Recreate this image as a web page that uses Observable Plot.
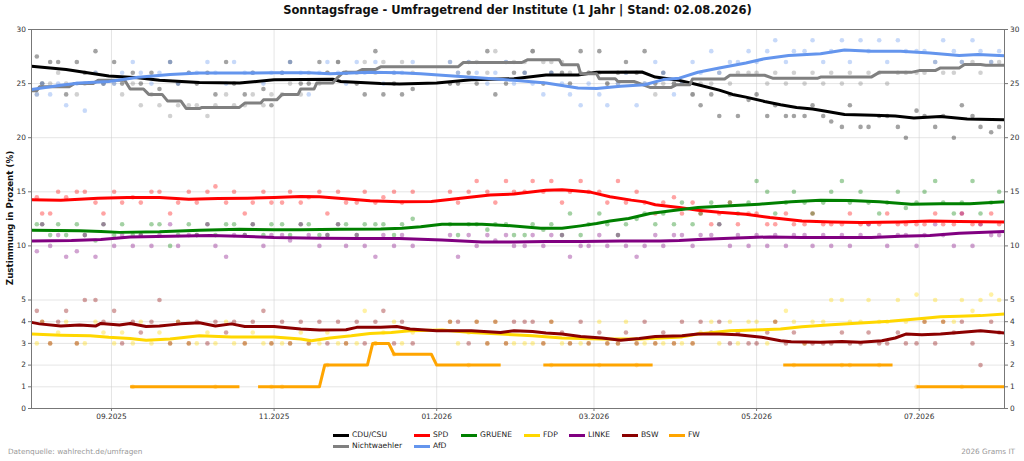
<!DOCTYPE html>
<html>
<head>
<meta charset="utf-8">
<script src="https://cdn.jsdelivr.net/npm/d3@7"></script>
<script src="https://cdn.jsdelivr.net/npm/@observablehq/plot@0.6"></script>
<style>
  html, body { margin: 0; padding: 0; background: #fff; }
  #wrap { position: relative; width: 1024px; height: 461px; background: #fff; font-family: "DejaVu Sans", sans-serif; color: #222; overflow: hidden; }
  #title { position: absolute; top: 4px; left: 0; width: 1035px; text-align: center; font-weight: bold; font-size: 11.5px; line-height: 13px; color: #111; }
  #ylabel { position: absolute; left: 9.5px; top: 218px; transform: translate(-50%, -50%) rotate(-90deg); white-space: nowrap; font-weight: bold; font-size: 8.7px; color: #111; }
  #chart { position: absolute; top: 20px; left: 0; }
  .leg { position: absolute; display: flex; align-items: center; font-size: 7.6px; line-height: 10px; height: 10px; color: #222; white-space: nowrap; }
  .leg span.sw { display: inline-block; width: 16px; height: 3px; margin-right: 3px; }
  .foot { position: absolute; top: 447px; font-size: 7.3px; line-height: 10px; color: #999; white-space: nowrap; }
</style>
</head>
<body>
<div id="wrap">
  <div id="title">Sonntagsfrage - Umfragetrend der Institute (1 Jahr | Stand: 02.08.2026)</div>
  <div id="ylabel">Zustimmung in Prozent (%)</div>
  <div id="chart"></div>
  <div class="foot" style="left:8px">Datenquelle: wahlrecht.de/umfragen</div>
  <div class="foot" style="right:9px">2026 Grams IT</div>
</div>
<script>
// ---------- categories ----------
const partyNames  = ["CDU/CSU", "Nichtwaehler", "SPD", "AfD", "GRUENE", "FDP", "LINKE", "BSW", "FW"];
const partyColors = ["#000000", "#808080", "#ff0000", "#6495ed", "#008000", "#ffd700", "#800080", "#8b0000", "#ffa500"];

// ---------- axis ticks ----------
const yTicks = [0, 1, 2, 3, 4, 5, 10, 15, 20, 25, 30];
const xTickDates = ["2025-09-01", "2025-11-01", "2026-01-01", "2026-03-01", "2026-05-01", "2026-07-01"];

// ---------- poll dates (shared by all parties) ----------
const pollDates = [
  "2025-08-04","2025-08-06","2025-08-09","2025-08-12","2025-08-15","2025-08-19","2025-08-22","2025-08-26","2025-08-29",
  "2025-09-02","2025-09-05","2025-09-09","2025-09-12","2025-09-16","2025-09-19","2025-09-23","2025-09-26","2025-09-30",
  "2025-10-03","2025-10-07","2025-10-10","2025-10-14","2025-10-17","2025-10-21","2025-10-24","2025-10-28","2025-10-31",
  "2025-11-04","2025-11-07","2025-11-11","2025-11-14","2025-11-18","2025-11-21","2025-11-25","2025-11-28",
  "2025-12-02","2025-12-05","2025-12-09","2025-12-12","2025-12-16","2025-12-19","2025-12-23",
  "2026-01-06","2026-01-09","2026-01-13","2026-01-16","2026-01-20","2026-01-23","2026-01-27","2026-01-30",
  "2026-02-03","2026-02-06","2026-02-10","2026-02-13","2026-02-17","2026-02-20","2026-02-24","2026-02-27",
  "2026-03-03","2026-03-06","2026-03-10","2026-03-13","2026-03-17","2026-03-20","2026-03-24","2026-03-27","2026-03-31",
  "2026-04-03","2026-04-07","2026-04-10","2026-04-14","2026-04-17","2026-04-21","2026-04-24","2026-04-28",
  "2026-05-01","2026-05-05","2026-05-08","2026-05-12","2026-05-15","2026-05-19","2026-05-22","2026-05-26","2026-05-29",
  "2026-06-02","2026-06-05","2026-06-09","2026-06-12","2026-06-16","2026-06-19","2026-06-23","2026-06-26","2026-06-30",
  "2026-07-03","2026-07-07","2026-07-10","2026-07-14","2026-07-17","2026-07-21","2026-07-24","2026-07-28","2026-07-31"
];

// ---------- poll values per party ----------
const cduPolls = [
  27.5,25,27,27,24,27,26,28,25,
  27,25,26,25,26,24.5,27,25,26,
  25,26,24,27,25,24,26,24.5,23,
  26,27,25,25,27,26,27,26,
  25,24,28,24,25,24,24.5,
  25,25,26,25,28,24,25,26,
  26,28,25,26,26,25,28,26,
  28,25,26,27,26,28,25,26,25,
  25,24,23,24,22,24,22,23.5,
  24,22,23,22,22,22,23,22,21.5,
  21,23,21,21,22,22,21,20,22.5,
  22,21,22,20,23,22,21,20.5,21
];
const nwPolls = [
  24,25,25,26,25,24,25,26,25,
  25,24,25,23,24,23,22,23,23,
  23,22,23,24,23,23,24,23,24,
  24,25,24,26,25,26,27,26,
  26,27,26,27,26,27,26,
  27,26,27,27,26,28,27,27,
  27,28,27,27,27,26,26,26,
  26,25,25,26,25,25,24,25,25,
  25,24,25,25,26,25,26,26,
  26,25,26,25,26,25,26,25,26,
  25,26,25,26,26,25,26,26,26,
  26,27,26,26,27,27,26,27,27
];
const spdPolls = [
  14.5,13,13,15,14.5,15,15,14,13,
  15,14,14.5,14,15,15,13,14,15,
  14,15,15.5,14,15,13,14,15,14,
  14,15,14,14.5,15,13,15,14,
  14,15,14,14.5,15,14,15,
  15,14,15,16,15,14,16,15,
  15,16,15,16,14,15,16,15,
  15,14,16,14,15,14,13,14,14.5,
  13,14,13,12,13,14,12,13,
  13,12,12,13,12,12,13,12,12,
  12,13,12,12,12,13,12,12,12,
  12,13,12,12,13,12,12,13,12
];
const afdPolls = [
  24,25,24,25,23,25,22.5,26,25,
  25,26,27,26,25,26,27,25,26,
  26,27,26,25,27,26,26,25,26,
  26,27,26,24,26,27,26,25,
  27,26,27,25,26,26,27,
  27,26,27,26,25,26,27,25,
  26,25,24,26,25,24,23,25,
  24,23,25,26,23,25,27,26,24,
  25,27,26,28,26,27,27,28,
  27,28,29,27,28,28,29,27,28,
  29,27,29,28,29,27,29,28,28,
  28,27,29,28,27,29,28,27,28
];
const gruPolls = [
  12,12,11,12,11,12,11,10.5,12,
  11,12,11,11,12,12,10,11,12,
  11,12,11,12,12,11,12,11,12,
  12,11,12,12,11,11,12,12,
  11,12,12,12,11,12,12.5,
  12,11,12,12,11.5,12,12,11,
  11,12,11.5,12,11,13,11,12,
  13,12,11,12,12.5,13,12,13,12,
  14,12,13,14,12,14,13,14,
  16,15,13,14,15,14,13,14,15,
  16,14,15,14,13,14,15,13.5,14,
  15,16,14,13,14,16,13,14,15
];
const fdpPolls = [
  3,4,3,3.5,4,3,3,4,3.5,
  3,3.5,3,4,3,3.5,3,4,3,
  3,3.5,3,4,3,3,3.5,3,3,
  3,3,3.5,3,3,3.5,3,3,
  3,4.5,3,3.5,4,3,3.5,
  4,3,3.5,4,3,4,3,3,
  3,3,3,4,3,3,3,3,
  4,3,3,4,3,3,3,3,3,
  3,3,3.5,4,3,4,3,4,
  4,3,4,4.5,4,3,4,4,5,
  5,4,4,5,4,4,5,4,5.5,
  4,5,4,4,5,4.5,5,5.5,5
];
const linPolls = [
  9.5,12,10,11,9,9.5,11,9,12,
  10,11,10,11,10,11,12,10,11,
  11,12,10,9,11,11,12,10,11,
  11,10.5,12,11,10,11,12,10,
  11,10,9,11,10,11,10,
  11,9,11,10,11,10.5,11,10,
  10,11,10,11,11,9,10,10,
  11,10,11,10,9,10,11,10,11,
  11,10,11,11,12,10,11,10,
  11,10,11,10,11,11,10,11,10,
  11,10,11,12,11,10,11,11,10,
  11,12,11,10,13,10,12,11,11
];
const bswPolls = [
  4.5,4,3,4,4.5,3,5,5,4,
  4.5,3,4,3.5,4,5,3,4,3,
  4,3,4,3.5,4,3,4,4.5,3,
  4,3,4,3,4,3,4,3,
  4,3,4,4.5,3,4,3,
  4,4,3,4,3,4,3,4,
  4,4,3,4,3.5,3,4,3,
  3.5,3,3,3.5,3,4,3,3.5,3,
  4,3,4,3.5,4,3,3.5,3,
  3,3.5,4,3,3.5,3,3,3,3,
  3.5,3,3,3.5,3,3,3.5,3,3,
  4,3,4,3.5,4,3,2,4,3.5
];
const fwPolls = [
  null,null,null,null,null,null,null,null,null,
  null,null,1,null,null,null,null,null,null,
  null,null,1,null,null,null,null,null,1,
  1,null,null,null,null,2,null,null,
  null,null,3,null,2.5,null,null,
  null,null,2,null,null,null,null,null,
  null,null,null,2,null,null,null,null,
  2,null,null,null,2,null,null,null,null,
  null,null,null,null,null,null,null,null,
  null,null,null,null,2,null,null,null,null,
  2,2,null,null,2,null,null,null,1,
  null,null,null,null,1,null,null,null,null
];

// ---------- trend lines (date, value) ----------
const cduTrend = [["2025-08-02",26.6],["2025-08-15",26.3],["2025-08-31",25.7],["2025-09-11",25.55],["2025-09-19",25.3],["2025-10-04",25.1],["2025-10-19",25.05],["2025-11-01",25.35],["2025-11-23",25.4],["2025-11-26",25.2],["2025-12-11",25.0],["2025-12-18",24.97],["2026-01-01",25.05],["2026-01-14",25.35],["2026-01-30",25.45],["2026-02-11",25.8],["2026-02-23",25.8],["2026-03-02",26.05],["2026-03-19",26.07],["2026-03-24",25.6],["2026-04-02",25.3],["2026-04-09",24.9],["2026-04-17",24.4],["2026-04-22",24.0],["2026-04-27",23.75],["2026-05-04",23.35],["2026-05-10",23.05],["2026-05-16",22.8],["2026-05-22",22.65],["2026-05-27",22.45],["2026-06-03",22.15],["2026-06-14",22.07],["2026-06-22",22.0],["2026-06-29",21.83],["2026-07-09",21.95],["2026-07-19",21.73],["2026-08-02",21.65]];
const nwTrend = [["2025-08-02",24.35],["2025-08-04",24.35],["2025-08-05",24.7],["2025-08-16",24.7],["2025-08-18",25.0],["2025-08-25",25.0],["2025-08-27",25.3],["2025-09-06",25.3],["2025-09-08",24.5],["2025-09-13",24.5],["2025-09-15",24.0],["2025-09-20",24.0],["2025-09-22",23.4],["2025-09-27",23.4],["2025-09-29",22.7],["2025-10-04",22.7],["2025-10-05",22.8],["2025-10-19",22.8],["2025-10-21",23.2],["2025-10-27",23.2],["2025-10-28",23.5],["2025-11-02",23.5],["2025-11-04",24.0],["2025-11-10",24.0],["2025-11-11",24.5],["2025-11-16",24.5],["2025-11-17",25.05],["2025-11-23",25.05],["2025-11-25",25.6],["2025-11-27",26.05],["2025-12-02",26.05],["2025-12-04",26.3],["2025-12-09",26.3],["2025-12-11",26.55],["2026-01-09",26.55],["2026-01-11",26.95],["2026-02-02",26.95],["2026-02-04",27.2],["2026-02-16",27.2],["2026-02-17",26.75],["2026-02-23",26.75],["2026-02-24",25.9],["2026-03-02",25.9],["2026-03-03",25.45],["2026-03-09",25.45],["2026-03-10",25.2],["2026-03-16",25.2],["2026-03-22",24.65],["2026-03-30",24.65],["2026-04-01",24.9],["2026-04-06",24.9],["2026-04-07",25.43],["2026-04-19",25.43],["2026-04-21",25.77],["2026-05-04",25.77],["2026-05-07",25.5],["2026-05-24",25.5],["2026-05-25",25.6],["2026-06-13",25.6],["2026-06-16",26.04],["2026-06-28",26.04],["2026-07-01",26.2],["2026-07-07",26.2],["2026-07-09",26.45],["2026-07-16",26.45],["2026-07-18",26.76],["2026-07-24",26.76],["2026-07-26",26.7],["2026-08-02",26.7]];
const spdTrend = [["2025-08-02",14.26],["2025-08-13",14.23],["2025-08-27",14.4],["2025-09-07",14.47],["2025-09-19",14.47],["2025-09-30",14.32],["2025-10-11",14.38],["2025-10-22",14.4],["2025-11-01",14.47],["2025-11-11",14.57],["2025-11-18",14.55],["2025-11-30",14.32],["2025-12-07",14.17],["2025-12-18",14.07],["2025-12-30",14.1],["2026-01-10",14.4],["2026-01-21",14.7],["2026-01-30",14.8],["2026-02-11",15.15],["2026-02-17",15.2],["2026-02-22",15.1],["2026-02-28",14.95],["2026-03-07",14.54],["2026-03-15",14.23],["2026-03-20",14.07],["2026-03-24",13.8],["2026-04-02",13.55],["2026-04-09",13.3],["2026-04-17",13.1],["2026-04-27",12.93],["2026-05-06",12.62],["2026-05-18",12.3],["2026-05-29",12.22],["2026-06-09",12.16],["2026-06-24",12.22],["2026-07-05",12.3],["2026-07-16",12.25],["2026-08-02",12.22]];
const afdTrend = [["2025-08-02",24.45],["2025-08-13",24.84],["2025-08-20",25.05],["2025-08-31",25.2],["2025-09-11",25.58],["2025-09-23",25.83],["2025-10-04",25.98],["2025-10-19",25.98],["2025-11-01",26.0],["2025-11-14",26.0],["2025-11-22",25.9],["2025-12-07",26.04],["2025-12-18",26.0],["2025-12-26",25.9],["2026-01-03",25.77],["2026-01-14",25.58],["2026-01-30",25.3],["2026-02-11",25.05],["2026-02-23",24.6],["2026-03-02",24.55],["2026-03-11",24.75],["2026-03-20",24.9],["2026-03-27",25.37],["2026-04-02",25.5],["2026-04-09",26.05],["2026-04-17",26.44],["2026-04-27",26.9],["2026-05-04",27.3],["2026-05-13",27.6],["2026-05-25",27.75],["2026-06-03",28.1],["2026-06-13",27.98],["2026-06-24",27.98],["2026-07-05",27.83],["2026-07-16",27.6],["2026-07-23",27.68],["2026-08-02",27.58]];
const gruTrend = [["2025-08-02",11.45],["2025-08-20",11.4],["2025-08-28",11.33],["2025-09-04",11.25],["2025-09-19",11.3],["2025-10-04",11.45],["2025-10-19",11.54],["2025-11-01",11.5],["2025-11-11",11.5],["2025-11-26",11.54],["2025-12-11",11.57],["2025-12-19",11.63],["2025-12-26",11.76],["2026-01-03",12.0],["2026-01-18",12.0],["2026-01-30",11.85],["2026-02-09",11.63],["2026-02-17",11.63],["2026-02-24",11.85],["2026-03-02",12.07],["2026-03-07",12.3],["2026-03-14",12.53],["2026-03-22",13.0],["2026-03-30",13.24],["2026-04-09",13.55],["2026-04-21",13.7],["2026-05-02",13.86],["2026-05-14",14.07],["2026-05-25",14.23],["2026-06-05",14.2],["2026-06-16",14.07],["2026-06-28",13.86],["2026-07-09",13.9],["2026-07-20",13.9],["2026-08-02",14.07]];
const fdpTrend = [["2025-08-02",3.43],["2025-08-13",3.38],["2025-08-24",3.35],["2025-08-31",3.28],["2025-09-08",3.23],["2025-09-14",3.15],["2025-09-23",3.2],["2025-10-04",3.35],["2025-10-16",3.3],["2025-11-01",3.3],["2025-11-11",3.2],["2025-11-15",3.12],["2025-11-22",3.25],["2025-11-30",3.35],["2025-12-07",3.46],["2025-12-15",3.5],["2025-12-22",3.58],["2026-01-03",3.62],["2026-01-14",3.5],["2026-01-25",3.43],["2026-02-06",3.35],["2026-02-17",3.25],["2026-03-04",3.2],["2026-03-18",3.2],["2026-04-03",3.3],["2026-04-09",3.43],["2026-04-21",3.58],["2026-05-03",3.63],["2026-05-10",3.66],["2026-05-18",3.77],["2026-05-29",3.86],["2026-06-09",3.94],["2026-06-20",4.02],["2026-07-02",4.15],["2026-07-09",4.23],["2026-07-16",4.25],["2026-07-24",4.28],["2026-08-02",4.35]];
const linTrend = [["2025-08-02",10.45],["2025-08-17",10.5],["2025-08-28",10.6],["2025-09-08",10.83],["2025-09-23",10.9],["2025-10-08",10.96],["2025-10-19",10.9],["2025-11-01",10.77],["2025-11-18",10.7],["2025-12-03",10.68],["2025-12-18",10.68],["2026-01-03",10.55],["2026-01-18",10.37],["2026-01-30",10.37],["2026-02-11",10.4],["2026-02-24",10.4],["2026-03-11",10.45],["2026-03-26",10.45],["2026-04-02",10.5],["2026-04-09",10.6],["2026-04-21",10.71],["2026-05-06",10.83],["2026-05-18",10.77],["2026-06-03",10.77],["2026-06-13",10.77],["2026-06-24",10.9],["2026-07-05",10.96],["2026-07-16",11.17],["2026-08-02",11.33]];
const bswTrend = [["2025-08-02",3.97],["2025-08-05",3.9],["2025-08-13",3.8],["2025-08-20",3.85],["2025-08-26",3.8],["2025-08-28",3.92],["2025-09-04",3.85],["2025-09-08",3.92],["2025-09-14",3.78],["2025-09-19",3.8],["2025-09-27",3.9],["2025-10-04",3.95],["2025-10-10",3.8],["2025-10-16",3.9],["2025-10-21",3.78],["2025-11-01",3.78],["2025-11-11",3.66],["2025-11-18",3.62],["2025-11-28",3.63],["2025-12-02",3.74],["2025-12-11",3.74],["2025-12-17",3.78],["2025-12-22",3.66],["2026-01-01",3.58],["2026-01-14",3.58],["2026-01-25",3.5],["2026-01-30",3.58],["2026-02-06",3.55],["2026-02-11",3.48],["2026-02-17",3.43],["2026-02-24",3.32],["2026-03-04",3.25],["2026-03-11",3.15],["2026-03-18",3.23],["2026-03-24",3.32],["2026-04-03",3.35],["2026-04-09",3.43],["2026-04-17",3.43],["2026-04-24",3.4],["2026-05-03",3.28],["2026-05-10",3.12],["2026-05-14",3.08],["2026-05-25",3.05],["2026-06-02",3.09],["2026-06-09",3.05],["2026-06-17",3.12],["2026-06-22",3.25],["2026-06-26",3.43],["2026-07-02",3.4],["2026-07-09",3.43],["2026-07-16",3.5],["2026-07-24",3.58],["2026-08-02",3.48]];
const fwTrend = [["2025-09-08",1],["2025-10-19",1],["2025-10-22",null],["2025-10-26",1],["2025-11-18",1],["2025-11-20",2],["2025-12-06",2],["2025-12-08",3],["2025-12-14",3],["2025-12-16",2.5],["2025-12-30",2.5],["2026-01-01",2],["2026-01-25",2],["2026-02-01",null],["2026-02-10",2],["2026-03-23",2],["2026-04-15",null],["2026-05-11",2],["2026-06-21",2],["2026-06-25",null],["2026-06-30",1],["2026-08-02",1]];

// ---------- build tables ----------
const pollsByParty = {"CDU/CSU": cduPolls, "Nichtwaehler": nwPolls, "SPD": spdPolls, "AfD": afdPolls, "GRUENE": gruPolls, "FDP": fdpPolls, "LINKE": linPolls, "BSW": bswPolls, "FW": fwPolls};
const trendByParty = {"CDU/CSU": cduTrend, "Nichtwaehler": nwTrend, "SPD": spdTrend, "AfD": afdTrend, "GRUENE": gruTrend, "FDP": fdpTrend, "LINKE": linTrend, "BSW": bswTrend, "FW": fwTrend};

const pollData = [];
for (const p of partyNames) {
  pollsByParty[p].forEach((v, i) => {
    if (v != null && pollDates[i]) pollData.push({party: p, date: new Date(pollDates[i]), value: v});
  });
}
const trendData = [];
for (const p of partyNames) {
  for (const [d, v] of trendByParty[p]) trendData.push({party: p, date: new Date(d), value: v});
}
const xTicks = xTickDates.map(d => new Date(d));

const chart = Plot.plot({
  width: 1024,
  height: 410,
  marginLeft: 31,
  marginRight: 20,
  marginTop: 9,
  marginBottom: 22,
  style: {fontFamily: "DejaVu Sans, sans-serif", fontSize: "7.4px", color: "#333", background: "transparent", overflow: "visible"},
  x: {type: "utc", domain: [new Date("2025-08-02"), new Date("2026-08-02")]},
  y: {type: "linear", domain: [0, 5, 30], range: [388, 279.5, 9]},
  color: {domain: partyNames, range: partyColors},
  marks: [
    Plot.gridY(yTicks, {stroke: "#d0d0d0", strokeOpacity: 0.55}),
    Plot.gridX(xTicks, {stroke: "#d0d0d0", strokeOpacity: 0.55}),
    Plot.dot(pollData, {x: "date", y: "value", r: 2.3, fill: "party", fillOpacity: 0.36, stroke: null}),
    Plot.line(trendData, {x: "date", y: "value", z: "party", stroke: "party", strokeWidth: 3, curve: "linear", strokeLinejoin: "round", strokeLinecap: "butt"}),
    Plot.frame({stroke: "#777"}),
    Plot.axisY(yTicks, {anchor: "left", tickSize: 3, tickPadding: 2.5, label: null, stroke: "#777"}),
    Plot.axisY(yTicks, {anchor: "right", tickSize: 3, tickPadding: 2.5, label: null, stroke: "#777"}),
    Plot.axisX(xTicks, {anchor: "bottom", tickSize: 3, tickPadding: 2.5, tickFormat: d3.utcFormat("%m.%Y"), label: null, stroke: "#777"})
  ]
});
document.getElementById("chart").appendChild(chart);

// ---------- legend ----------
const legendItems = [
  {name: "CDU/CSU", left: 333, top: 430},
  {name: "Nichtwaehler", left: 333, top: 441},
  {name: "SPD", left: 414, top: 430},
  {name: "AfD", left: 414, top: 441},
  {name: "GRUENE", left: 461, top: 430},
  {name: "FDP", left: 524, top: 430},
  {name: "LINKE", left: 569, top: 430},
  {name: "BSW", left: 622, top: 430},
  {name: "FW", left: 669, top: 430}
];
const wrap = document.getElementById("wrap");
for (const it of legendItems) {
  const el = document.createElement("div");
  el.className = "leg";
  el.style.left = it.left + "px";
  el.style.top = it.top + "px";
  const sw = document.createElement("span");
  sw.className = "sw";
  sw.style.background = partyColors[partyNames.indexOf(it.name)];
  el.appendChild(sw);
  el.appendChild(document.createTextNode(it.name));
  wrap.appendChild(el);
}
</script>
</body>
</html>
